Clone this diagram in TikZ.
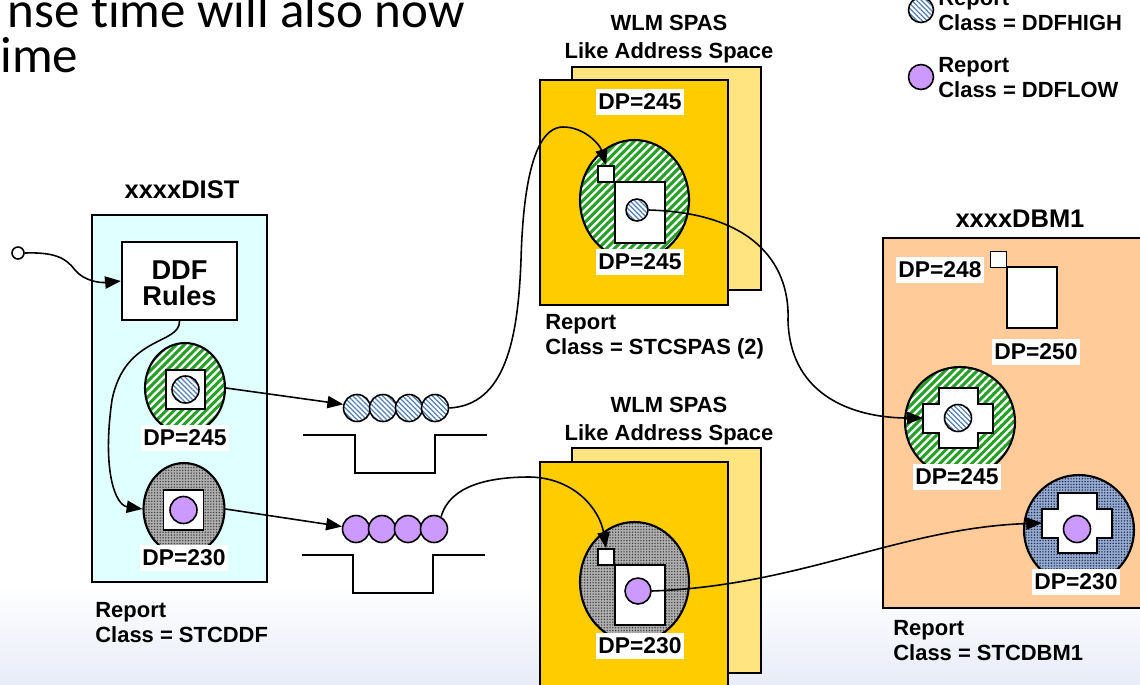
\documentclass[tikz,border=0pt]{standalone}
\usepackage{fontspec}
\setmainfont{Liberation Sans}
\newfontfamily\slidefont[Ligatures=NoCommon]{Carlito}
\usetikzlibrary{arrows.meta,shapes.geometric,patterns.meta}

\definecolor{distfill}{RGB}{224,255,255}
\definecolor{dbmfill}{RGB}{255,204,153}
\definecolor{spasfront}{RGB}{255,204,0}
\definecolor{spasback}{RGB}{255,228,128}
\definecolor{hatchgreen}{RGB}{40,160,40}
\definecolor{hatchblue}{RGB}{80,125,180}
\definecolor{lowpurple}{RGB}{204,153,255}
\definecolor{dotgray}{RGB}{175,175,175}
\definecolor{dotblue}{RGB}{150,172,205}
\definecolor{dotnavy}{RGB}{30,40,90}
\definecolor{bgblue}{RGB}{232,236,248}

\tikzset{
  space/.style={draw,line width=1.4pt},
  title/.style={font=\bfseries\fontsize{14.5}{17}\selectfont,inner sep=0,anchor=base},
  wlm/.style={font=\bfseries\fontsize{12.5}{15.9}\selectfont,inner sep=0,anchor=base,align=center},
  rpt/.style={font=\bfseries\fontsize{12.5}{14.2}\selectfont,inner sep=0,anchor=base west,align=left},
  dp/.style={fill=white,font=\bfseries\fontsize{13}{15}\selectfont,inner xsep=1.5pt,inner ysep=3pt},
  wbox/.style={draw,fill=white,line width=1.1pt,inner sep=0},
  ell/.style={ellipse,draw,line width=1.2pt,inner sep=0},
  hi/.style={circle,draw,line width=0.9pt,inner sep=0,minimum size=#1,
    preaction={fill=white},
    preaction={pattern={Lines[angle=-45,distance=2pt,line width=0.7pt]},pattern color=hatchblue}},
  hi/.default=0.54cm,
  lo/.style={circle,draw,line width=0.9pt,inner sep=0,minimum size=#1,fill=lowpurple},
  lo/.default=0.54cm,
  greenhatch/.style={preaction={fill=hatchgreen},
    preaction={pattern={Lines[angle=45,distance=3.2pt,line width=1.3pt]},pattern color=white}},
  graydots/.style={preaction={fill=dotgray},
    preaction={pattern={Dots[distance=1.6pt,radius=0.45pt]},pattern color=black!75}},
  bluedots/.style={preaction={fill=dotblue},
    preaction={pattern={Dots[distance=1.6pt,radius=0.45pt]},pattern color=dotnavy}},
  flow/.style={line width=0.9pt}
}

\begin{document}
\begin{tikzpicture}[x=0.02cm,y=-0.02cm,>={Triangle[length=9pt,width=7pt]}]
\useasboundingbox (0,0) rectangle (1140,684);
\shade[top color=white,bottom color=bgblue] (0,585) rectangle (1140,684);

% slide text, cut off at the top
\node[anchor=base east,inner sep=0,font=\slidefont\fontsize{29}{35}\selectfont] (head1) at (465,27) {nse time will also now};
\node[anchor=base west,inner sep=0,font=\slidefont\fontsize{29}{35}\selectfont] (head2) at (0,72) {ime};

% legend (two-line labels sit on the baseline of their last line)
\node[hi=0.5cm] (keyhi) at (921,10) {};
\node[rpt] (keyhitxt) at (938,30) {Report\\Class = DDFHIGH};
\node[lo=0.5cm] (keylo) at (921,77) {};
\node[rpt] (keylotxt) at (938,97) {Report\\Class = DDFLOW};

% xxxxDIST
\node[title] (tdist) at (182,198) {xxxxDIST};
\draw[space,fill=distfill] (92,215) rectangle (267,582);
\node[draw,fill=white,line width=1.3pt,minimum width=2.3cm,minimum height=1.56cm,align=center,
  font=\bfseries\fontsize{15.5}{14.8}\selectfont] (rules) at (179.5,281) {\rule{0pt}{13pt}DDF\\Rules};
\node[ell,greenhatch,minimum width=1.6cm,minimum height=1.8cm] (dhigh) at (185,388) {};
\node[wbox,minimum size=0.78cm] (dhighsq) at (185.5,389.5) {};
\node[hi] (dhighc) at (185.5,389.5) {};
\node[dp] (dp1) at (185,438) {DP=245};
\node[ell,graydots,minimum width=1.62cm,minimum height=1.84cm] (dlow) at (184,509) {};
\node[wbox,minimum size=0.8cm] (dlowsq) at (183.5,510) {};
\node[lo] (dlowc) at (183.5,510) {};
\node[dp] (dp2) at (184,558) {DP=230};
\node[rpt] (rdist) at (95,642) {Report\\Class = STCDDF};
\node[circle,draw,line width=0.9pt,fill=white,minimum size=0.24cm,inner sep=0] (in) at (18,253) {};

% queues
\foreach \i/\x in {1/357,2/383,3/409,4/435}
  \node[hi] (qh\i) at (\x,408) {};
\foreach \i/\x in {1/356,2/382,3/408,4/434}
  \node[lo] (ql\i) at (\x,529) {};
\draw[line width=1.2pt] (303,435) -- (355,435) -- (355,473) -- (435,473) -- (435,435) -- (487,435);
\draw[line width=1.2pt] (302,555) -- (353,555) -- (353,593) -- (433,593) -- (433,555) -- (485,555);

% WLM SPAS (top)
\node[wlm] (tw1) at (669,58) {WLM SPAS\\Like Address Space};
\draw[space,fill=spasback] (572,67) rectangle (761,290);
\draw[space,fill=spasfront] (540,80) rectangle (728,305);
\node[dp] (dp3) at (640,102) {DP=245};
\node[ell,greenhatch,minimum width=2.18cm,minimum height=2.4cm] (shigh) at (634.5,200) {};
\node[wbox,minimum size=0.32cm] (sq1) at (606,174) {};
\node[wbox,minimum width=1cm,minimum height=1.22cm] (big1) at (640,212.5) {};
\node[hi=0.44cm] (shighc) at (637,210) {};
\node[dp] (dp4) at (640,262) {DP=245};
\node[rpt] (rspas) at (545,354) {Report\\Class = STCSPAS (2)};

% WLM SPAS (bottom)
\node[wlm] (tw2) at (669,440) {WLM SPAS\\Like Address Space};
\draw[space,fill=spasback] (572,448) rectangle (761,673);
\draw[space,fill=spasfront] (540,462) rectangle (728,700);
\node[ell,graydots,minimum width=2.18cm,minimum height=2.4cm] (slow) at (634.5,582) {};
\node[wbox,minimum size=0.32cm] (sq2) at (606,557) {};
\node[wbox,minimum width=1cm,minimum height=1.2cm] (big2) at (640,595) {};
\node[lo=0.52cm] (slowc) at (638,591) {};
\node[dp] (dp5) at (640,646) {DP=230};

% xxxxDBM1
\node[title] (tdbm) at (1020,227) {xxxxDBM1};
\draw[space,fill=dbmfill] (883,238) rectangle (1150,608);
\node[wbox,minimum size=0.32cm] (sq3) at (998.5,259.5) {};
\node[wbox,minimum width=1cm,minimum height=1.22cm] (big3) at (1032,297.5) {};
\node[dp] (dp6) at (940,270) {DP=248};
\node[dp] (dp7) at (1036,352) {DP=250};
\node[circle,draw,line width=1.2pt,inner sep=0,minimum size=2.2cm,greenhatch] (bhigh) at (960,422) {};
\node[circle,draw,line width=1.2pt,inner sep=0,minimum size=2.2cm,bluedots] (blow) at (1079,530) {};
\foreach \cx/\cy/\nm in {958/418/xa,1077/523/xb}{
  \draw[line width=1.1pt,fill=white] (\cx-19,\cy-30) -- (\cx+20,\cy-30) -- (\cx+20,\cy-14) -- (\cx+35,\cy-14)
    -- (\cx+35,\cy+15) -- (\cx+20,\cy+15) -- (\cx+20,\cy+30) -- (\cx-19,\cy+30) -- (\cx-19,\cy+15)
    -- (\cx-35,\cy+15) -- (\cx-35,\cy-14) -- (\cx-19,\cy-14) -- cycle;
  \coordinate (\nm) at (\cx-35,\cy);
}
\node[hi] (bhighc) at (958,418) {};
\node[lo] (blowc) at (1077,529) {};
\node[dp] (dp8) at (957,477) {DP=245};
\node[dp] (dp9) at (1076,582) {DP=230};
\node[rpt] (rdbm) at (893,660) {Report\\Class = STCDBM1};

% flows
\draw[flow,->] (in.east) .. controls (55,252) and (66,258) .. (75,270) .. controls (84,281) and (100,283) .. (rules.west);
\draw[flow,->] (rules.south) .. controls (180,345) and (125,335) .. (112,400) .. controls (102,470) and (115,505) .. (dlow.west);
\draw[flow,->] (dhigh.east) -- (qh1.165);
\draw[flow,->] (dlow.east) -- (ql1.170);
\draw[flow,->] (qh4.east) .. controls (505,405) and (518,340) .. (521,260) .. controls (524,150) and (545,127) .. (563,127) .. controls (585,127) and (600,145) .. (sq1.north);
\draw[flow,->] (ql4.60) .. controls (450,485) and (490,477) .. (530,477) .. controls (575,478) and (600,510) .. (sq2.north);
\draw[flow,->] (shighc.east) .. controls (760,213) and (790,270) .. (788,320) .. controls (790,400) and (860,418) .. (xa);
\draw[flow,->] (slowc.east) .. controls (800,586) and (900,528) .. (xb);
\end{tikzpicture}
\end{document}
